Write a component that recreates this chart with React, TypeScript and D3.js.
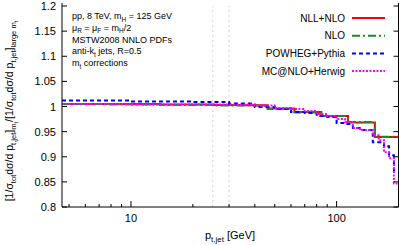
import React from "react";
import * as d3 from "d3";

// analytic predictions (log-spaced bins)
const nllEdges = [4.18, 5.65, 7.6, 10.3, 13.9, 18.8, 25.4, 34.2, 46.2, 62.4, 84.2, 113.7, 153.5, 207];
const nllNlo = [1.005, 1.005, 1.005, 1.005, 1.004, 1.004, 1.003, 1.0025, 0.996, 0.989, 0.981, 0.968, 0.9395];
const nlo = [1.005, 1.005, 1.004, 1.004, 1.003, 1.003, 1.002, 1.002, 0.995, 0.988, 0.981, 0.969, 0.94];

// Monte Carlo (10 GeV bins)
const mcEdges = [0, 10, 20, 30, 40, 50, 60, 70, 80, 90, 100, 110, 120, 130, 140, 150, 160, 170, 180, 190, 200];
const powheg = [1.012, 1.01, 1.009, 1.006, 0.999, 0.995, 0.989, 0.987, 0.981, 0.979, 0.967, 0.965, 0.957, 0.953, 0.953, 0.929, 0.929, 0.921, 0.903, 0.873];
const mcnlo = [1.005, 1.004, 1.004, 1.004, 1.002, 0.997, 0.995, 0.991, 0.985, 0.981, 0.975, 0.969, 0.957, 0.953, 0.953, 0.943, 0.933, 0.909, 0.897, 0.847];

const yTicks = [0.8, 0.85, 0.9, 0.95, 1, 1.05, 1.1, 1.15, 1.2];
const xMajor = [10, 100];
const xMinor = [5, 6, 7, 8, 9, 20, 30, 40, 50, 60, 70, 80, 90, 200];
const cutLines = [25, 30];

const series = [
  { name: "NLL+NLO", edges: nllEdges, values: nllNlo, color: "#ff0000", dash: "" },
  { name: "NLO", edges: nllEdges, values: nlo, color: "#1f8a1f", dash: "8,3,2,3" },
  { name: "POWHEG+Pythia", edges: mcEdges, values: powheg, color: "#0000ff", dash: "4,3" },
  { name: "MC@NLO+Herwig", edges: mcEdges, values: mcnlo, color: "#ff00ff", dash: "2,1.5" },
];

const annot = [
  [["pp, 8 TeV, m", 0], ["H", 1], [" = 125 GeV", 0]],
  [["\u03bc", 0], ["R", 1], [" = \u03bc", 0], ["F", 1], ["  = m", 0], ["H", 1], ["/2", 0]],
  [["MSTW2008 NNLO PDFs", 0]],
  [["anti-k", 0], ["t", 1], [" jets, R=0.5", 0]],
  [["m", 0], ["t", 1], [" corrections", 0]],
];

const yLabel = [
  ["[1/\u03c3", 0], ["tot", 1], ["d\u03c3/d p", 0], ["t,jet", 1], ["]", 0], ["m", 1], ["t", 2],
  ["/[1/\u03c3", 0], ["tot", 1], ["d\u03c3/d p", 0], ["t,jet", 1], ["]", 0], ["large m", 1], ["t", 2],
];
const xLabel = [["p", 0], ["t,jet", 1], [" [GeV]", 0]];

const font = "'Liberation Sans', Arial, sans-serif";

function Rich({ segs, fs, ...rest }: any) {
  let lvl = 0;
  const scale = [1, 0.72, 0.55];
  const off = [0, 0.28, 0.45];
  return (
    <text fontSize={fs} {...rest}>
      {segs.map(([t, l]: [string, number], i: number) => {
        const dy = (off[l] - off[lvl]) * fs;
        lvl = l;
        return (
          <tspan key={i} dy={dy || undefined} fontSize={fs * scale[l]}>
            {t}
          </tspan>
        );
      })}
    </text>
  );
}

export default function App() {
  const W = 399, H = 245;
  const x = d3.scaleLog().domain([4.62, 200]).range([62, 398.5]);
  const y = d3.scaleLinear().domain([0.8, 1.2]).range([207, 6]);
  const [x0, x1] = x.range();
  const [y0, y1] = y.range();
  const xmin = x.domain()[0];

  const line = d3
    .line<[number, number]>()
    .x((d) => x(Math.max(d[0], xmin)))
    .y((d) => y(d[1]))
    .curve(d3.curveStepAfter);

  const pathFor = (edges: number[], vals: number[]) => {
    const pts: [number, number][] = vals.map((v, i) => [edges[i], v]);
    pts.push([edges[edges.length - 1], vals[vals.length - 1]]);
    return line(pts) || "";
  };

  return (
    <svg width={W} height={H} style={{ position: "absolute", left: 0, top: 0, background: "#fff" }} fontFamily={font}>
      <defs>
        <clipPath id="plot">
          <rect x={x0} y={y1} width={x1 - x0} height={y0 - y1} />
        </clipPath>
      </defs>

      {cutLines.map((c) => (
        <line key={c} x1={x(c)} x2={x(c)} y1={y0} y2={y1} stroke="#d0d0d0" strokeWidth={1} strokeDasharray="2,3" />
      ))}

      <g clipPath="url(#plot)" fill="none">
        {series.map((s) => (
          <path key={s.name} d={pathFor(s.edges, s.values)} stroke={s.color} strokeWidth={2}
            strokeDasharray={s.dash || undefined} />
        ))}
      </g>

      {/* axes */}
      <g stroke="#000" strokeWidth={1}>
        <line x1={x0} x2={x0} y1={y1 - 3} y2={y0} />
        <line x1={x1} x2={x1} y1={y1 - 3} y2={y0} />
        <line x1={x0} x2={x1} y1={y0} y2={y0} />
        {yTicks.map((t) => (
          <g key={t}>
            <line x1={x0} x2={x0 + 5} y1={y(t)} y2={y(t)} />
            <line x1={x1 - 5} x2={x1} y1={y(t)} y2={y(t)} />
          </g>
        ))}
        {xMajor.map((t) => (
          <line key={t} x1={x(t)} x2={x(t)} y1={y0} y2={y0 - 6} />
        ))}
        {xMinor.map((t) => (
          <line key={t} x1={x(t)} x2={x(t)} y1={y0} y2={y0 - 3} />
        ))}
      </g>

      <g fontSize={11} fill="#000">
        {yTicks.map((t) => (
          <text key={t} x={x0 - 6} y={y(t) + 4} textAnchor="end">{String(t)}</text>
        ))}
        {xMajor.map((t) => (
          <text key={t} x={x(t)} y={y0 + 15} textAnchor="middle">{String(t)}</text>
        ))}
      </g>

      <Rich segs={xLabel} fs={11} x={230} y={239} textAnchor="middle" fill="#000" />
      <Rich segs={yLabel} fs={10.5} textAnchor="middle" fill="#000" transform="translate(13,111) rotate(-90)" />

      {annot.map((segs, i) => (
        <Rich key={i} segs={segs} fs={9} x={72} y={19 + i * 11.8} fill="#000" />
      ))}

      {series.map((s, i) => {
        const ly = 18 + i * 17.7;
        return (
          <g key={s.name}>
            <text x={345} y={ly + 3.5} fontSize={10} textAnchor="end" fill="#000">{s.name}</text>
            <line x1={352} x2={385} y1={ly} y2={ly} stroke={s.color} strokeWidth={2} strokeDasharray={s.dash || undefined} />
          </g>
        );
      })}
    </svg>
  );
}
